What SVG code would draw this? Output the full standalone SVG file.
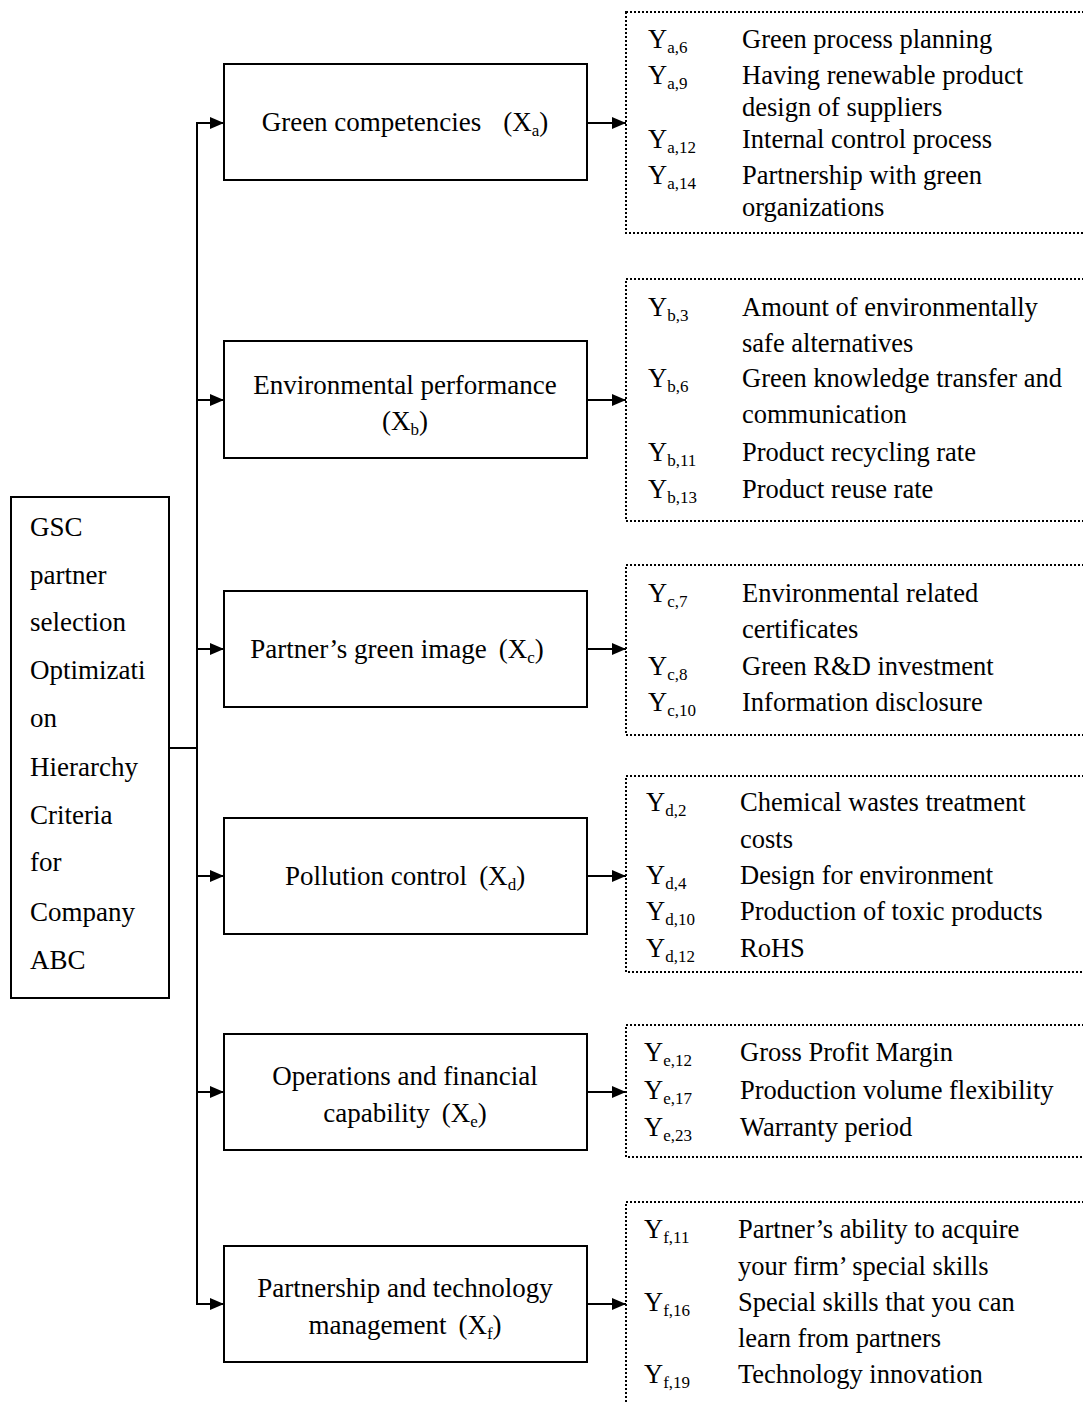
<svg xmlns="http://www.w3.org/2000/svg" width="1083" height="1402" viewBox="0 0 1083 1402">
  <defs>
    <marker id="arrow" markerWidth="14" markerHeight="12" refX="14" refY="6" orient="auto" markerUnits="userSpaceOnUse">
      <path d="M0,0 L14,6 L0,12 Z" fill="#000"/>
    </marker>
    <style>
      text { font-family: "Liberation Serif", "Times New Roman", serif; fill: #000; }
      .box { fill: #fff; stroke: #000; stroke-width: 2; }
      .dot { fill: none; stroke: #000; stroke-width: 2; stroke-dasharray: 2 2; }
      .line { fill: none; stroke: #000; stroke-width: 2; }
      .arr { fill: none; stroke: #000; stroke-width: 2; marker-end: url(#arrow); }
      .t { font-size: 27px; }
      .c { font-size: 27px; text-anchor: middle; }
      .d { font-size: 26.5px; }
      .s { font-size: 17px; }
    </style>
  </defs>

  <rect width="1083" height="1402" fill="#fff"/>

  <!-- connectors -->
  <g id="connectors">
    <path class="line" d="M169,748 H197"/>
    <path class="line" d="M197,123 V1304"/>
    <path class="arr" d="M196,123 H224"/>
    <path class="arr" d="M196,400 H224"/>
    <path class="arr" d="M196,649 H224"/>
    <path class="arr" d="M196,876 H224"/>
    <path class="arr" d="M196,1092 H224"/>
    <path class="arr" d="M196,1304 H224"/>
    <path class="arr" d="M587,123 H626"/>
    <path class="arr" d="M587,400 H626"/>
    <path class="arr" d="M587,649 H626"/>
    <path class="arr" d="M587,876 H626"/>
    <path class="arr" d="M587,1092 H626"/>
    <path class="arr" d="M587,1304 H626"/>
  </g>

  <!-- root -->
  <g id="root">
    <rect class="box" x="11" y="497" width="158" height="501"/>
    <text class="t" x="30" y="536">GSC</text>
    <text class="t" x="30" y="584">partner</text>
    <text class="t" x="30" y="631">selection</text>
    <text class="t" x="30" y="679">Optimizati</text>
    <text class="t" x="30" y="727">on</text>
    <text class="t" x="30" y="776">Hierarchy</text>
    <text class="t" x="30" y="824">Criteria</text>
    <text class="t" x="30" y="871">for</text>
    <text class="t" x="30" y="921">Company</text>
    <text class="t" x="30" y="969">ABC</text>
  </g>

  <!-- criteria -->
  <g id="xa">
    <rect class="box" x="224" y="64" width="363" height="116"/>
    <text class="c" x="405" y="131">Green competencies<tspan dx="22">(X</tspan><tspan class="s" dy="5">a</tspan><tspan dy="-5">)</tspan></text>
  </g>
  <g id="xb">
    <rect class="box" x="224" y="341" width="363" height="117"/>
    <text class="c" x="405" y="394">Environmental performance</text>
    <text class="c" x="405" y="430">(X<tspan class="s" dy="5">b</tspan><tspan dy="-5">)</tspan></text>
  </g>
  <g id="xc">
    <rect class="box" x="224" y="591" width="363" height="116"/>
    <text class="c" x="397" y="658">Partner’s green image<tspan dx="12">(X</tspan><tspan class="s" dy="5">c</tspan><tspan dy="-5">)</tspan></text>
  </g>
  <g id="xd">
    <rect class="box" x="224" y="818" width="363" height="116"/>
    <text class="c" x="405" y="885">Pollution control<tspan dx="12">(X</tspan><tspan class="s" dy="5">d</tspan><tspan dy="-5">)</tspan></text>
  </g>
  <g id="xe">
    <rect class="box" x="224" y="1034" width="363" height="116"/>
    <text class="c" x="405" y="1085">Operations and financial</text>
    <text class="c" x="405" y="1122">capability<tspan dx="12">(X</tspan><tspan class="s" dy="5">e</tspan><tspan dy="-5">)</tspan></text>
  </g>
  <g id="xf">
    <rect class="box" x="224" y="1246" width="363" height="116"/>
    <text class="c" x="405" y="1297">Partnership and technology</text>
    <text class="c" x="405" y="1334">management<tspan dx="12">(X</tspan><tspan class="s" dy="5">f</tspan><tspan dy="-5">)</tspan></text>
  </g>

  <!-- sub-criteria -->
  <g id="ya">
    <rect class="dot" x="626" y="12" width="470" height="221"/>
    <text class="d" x="648" y="48">Y<tspan class="s" dy="5">a,6</tspan></text>
    <text class="d" x="742" y="48">Green process planning</text>
    <text class="d" x="648" y="84">Y<tspan class="s" dy="5">a,9</tspan></text>
    <text class="d" x="742" y="84">Having renewable product</text>
    <text class="d" x="742" y="116">design of suppliers</text>
    <text class="d" x="648" y="148">Y<tspan class="s" dy="5">a,12</tspan></text>
    <text class="d" x="742" y="148">Internal control process</text>
    <text class="d" x="648" y="184">Y<tspan class="s" dy="5">a,14</tspan></text>
    <text class="d" x="742" y="184">Partnership with green</text>
    <text class="d" x="742" y="216">organizations</text>
  </g>
  <g id="yb">
    <rect class="dot" x="626" y="279" width="470" height="242"/>
    <text class="d" x="648" y="316">Y<tspan class="s" dy="5">b,3</tspan></text>
    <text class="d" x="742" y="316">Amount of environmentally</text>
    <text class="d" x="742" y="352">safe alternatives</text>
    <text class="d" x="648" y="387">Y<tspan class="s" dy="5">b,6</tspan></text>
    <text class="d" x="742" y="387">Green knowledge transfer and</text>
    <text class="d" x="742" y="423">communication</text>
    <text class="d" x="648" y="461">Y<tspan class="s" dy="5">b,11</tspan></text>
    <text class="d" x="742" y="461">Product recycling rate</text>
    <text class="d" x="648" y="498">Y<tspan class="s" dy="5">b,13</tspan></text>
    <text class="d" x="742" y="498">Product reuse rate</text>
  </g>
  <g id="yc">
    <rect class="dot" x="626" y="565" width="470" height="170"/>
    <text class="d" x="648" y="602">Y<tspan class="s" dy="5">c,7</tspan></text>
    <text class="d" x="742" y="602">Environmental related</text>
    <text class="d" x="742" y="638">certificates</text>
    <text class="d" x="648" y="675">Y<tspan class="s" dy="5">c,8</tspan></text>
    <text class="d" x="742" y="675">Green R&amp;D investment</text>
    <text class="d" x="648" y="711">Y<tspan class="s" dy="5">c,10</tspan></text>
    <text class="d" x="742" y="711">Information disclosure</text>
  </g>
  <g id="yd">
    <rect class="dot" x="626" y="776" width="470" height="196"/>
    <text class="d" x="646" y="811">Y<tspan class="s" dy="5">d,2</tspan></text>
    <text class="d" x="740" y="811">Chemical wastes treatment</text>
    <text class="d" x="740" y="848">costs</text>
    <text class="d" x="646" y="884">Y<tspan class="s" dy="5">d,4</tspan></text>
    <text class="d" x="740" y="884">Design for environment</text>
    <text class="d" x="646" y="920">Y<tspan class="s" dy="5">d,10</tspan></text>
    <text class="d" x="740" y="920">Production of toxic products</text>
    <text class="d" x="646" y="957">Y<tspan class="s" dy="5">d,12</tspan></text>
    <text class="d" x="740" y="957">RoHS</text>
  </g>
  <g id="ye">
    <rect class="dot" x="626" y="1025" width="470" height="132"/>
    <text class="d" x="644" y="1061">Y<tspan class="s" dy="5">e,12</tspan></text>
    <text class="d" x="740" y="1061">Gross Profit Margin</text>
    <text class="d" x="644" y="1099">Y<tspan class="s" dy="5">e,17</tspan></text>
    <text class="d" x="740" y="1099">Production volume flexibility</text>
    <text class="d" x="644" y="1136">Y<tspan class="s" dy="5">e,23</tspan></text>
    <text class="d" x="740" y="1136">Warranty period</text>
  </g>
  <g id="yf">
    <rect class="dot" x="626" y="1202" width="470" height="220"/>
    <text class="d" x="644" y="1238">Y<tspan class="s" dy="5">f,11</tspan></text>
    <text class="d" x="738" y="1238">Partner’s ability to acquire</text>
    <text class="d" x="738" y="1275">your firm’ special skills</text>
    <text class="d" x="644" y="1311">Y<tspan class="s" dy="5">f,16</tspan></text>
    <text class="d" x="738" y="1311">Special skills that you can</text>
    <text class="d" x="738" y="1347">learn from partners</text>
    <text class="d" x="644" y="1383">Y<tspan class="s" dy="5">f,19</tspan></text>
    <text class="d" x="738" y="1383">Technology innovation</text>
  </g>
</svg>
